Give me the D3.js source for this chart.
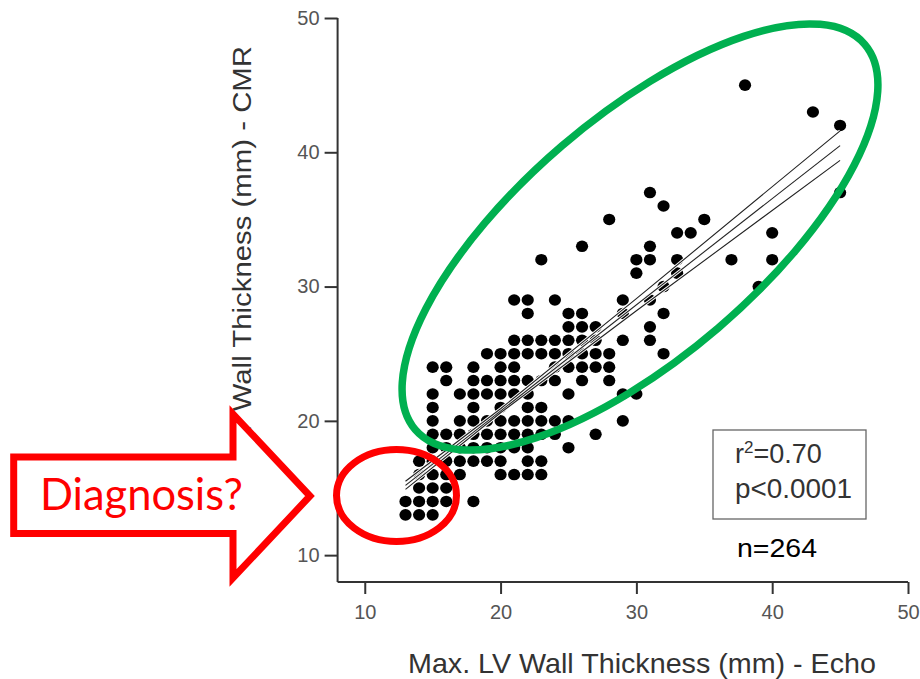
<!DOCTYPE html>
<html>
<head>
<meta charset="utf-8">
<script src="https://cdn.jsdelivr.net/npm/d3@7"></script>
<style>
  html, body { margin: 0; padding: 0; background: #fff; }
  svg { display: block; }
</style>
</head>
<body>
<svg id="chart" width="920" height="679"></svg>
<script>
// ---------------- DATA ----------------
// CMR wall thickness levels (mm) and the Echo values (mm) plotted at each level
const cmrLevels = [45, 43, 42, 37, 36, 35, 34, 33, 32, 31, 30, 29, 28, 27, 26, 25, 24, 23, 22, 21, 20, 19, 18, 17, 16, 15, 14, 13];
const echoAtLevel = [
  [38],
  [43],
  [45],
  [31, 45],
  [32],
  [28, 35],
  [33, 34, 40],
  [26, 31],
  [23, 30, 31, 33, 37, 40],
  [30, 33],
  [32, 39],
  [21, 22, 24, 29, 31],
  [22, 25, 26, 29, 32],
  [25, 26, 27, 31],
  [21, 22, 23, 24, 25, 26, 27, 29, 31],
  [19, 20, 21, 22, 23, 24, 25, 26, 27, 28, 32],
  [15, 16, 18, 20, 21, 24, 25, 26, 27, 28],
  [16, 18, 19, 20, 21, 22, 23, 24, 26, 28],
  [15, 17, 18, 19, 20, 21, 22, 25, 29, 30],
  [15, 18, 20, 22, 23],
  [15, 17, 18, 19, 20, 21, 22, 23, 24, 25, 29],
  [15, 16, 17, 18, 19, 20, 21, 22, 23, 24, 27],
  [15, 16, 17, 18, 19, 20, 21, 22, 25],
  [14, 15, 16, 17, 18, 19, 20, 22, 23],
  [14, 15, 16, 17, 20, 21, 22, 23],
  [14, 15, 16],
  [13, 14, 15, 16, 18],
  [13, 14, 15]
];
// regression line and confidence limits
const fitEcho = [13, 45];
const fitCMR = [15.2, 40.5];
const ciEcho = [13, 20, 30, 45];
const ciUpperCMR = [15.5, 20.9, 29.1, 41.6];
const ciLowerCMR = [14.9, 20.6, 28.2, 39.4];
// axes
const xTicks = [10, 20, 30, 40, 50];
const yTicks = [10, 20, 30, 40, 50];
const xTitle = "Max. LV Wall Thickness (mm) - Echo";
const yTitle = "Max. LV Wall Thickness (mm) - CMR";
// annotations
const r2Text = "0.70";
const pText = "p<0.0001";
const nText = "n=264";
const calloutText = "Diagnosis?";

// ---------------- DRAW ----------------
const svg = d3.select("#chart");
const x = d3.scaleLinear().domain([8, 50]).range([337.6, 908]);
const y = d3.scaleLinear().domain([8, 50]).range([582, 18]);

const points = [];
cmrLevels.forEach((c, i) => echoAtLevel[i].forEach(e => points.push({ e, c })));

// dots
svg.append("g").selectAll("ellipse").data(points).join("ellipse")
  .attr("cx", d => x(d.e)).attr("cy", d => y(d.c))
  .attr("rx", 6.1).attr("ry", 5.8)
  .attr("fill", "#000");

// regression lines (white halo + dark line)
const line = d3.line().x(d => x(d[0])).y(d => y(d[1]));
const lines = [
  d3.zip(fitEcho, fitCMR),
  d3.zip(ciEcho, ciUpperCMR),
  d3.zip(ciEcho, ciLowerCMR)
];
const lg = svg.append("g").attr("fill", "none");
lg.selectAll("path.halo").data(lines).join("path").attr("class", "halo")
  .attr("d", line).attr("stroke", "#fff").attr("stroke-width", 3);
lg.selectAll("path.ln").data(lines).join("path").attr("class", "ln")
  .attr("d", line).attr("stroke", "#222").attr("stroke-width", 1.1);

// axes
const xAxis = svg.append("g").attr("transform", `translate(0,${y(8)})`)
  .call(d3.axisBottom(x).tickValues(xTicks).tickSize(12).tickPadding(11));
const yAxis = svg.append("g").attr("transform", `translate(${x(8)},0)`)
  .call(d3.axisLeft(y).tickValues(yTicks).tickSize(13).tickPadding(5));
[xAxis, yAxis].forEach(a => {
  a.selectAll(".tick line").attr("stroke", "#333").attr("stroke-width", 2);
  a.selectAll(".tick text").attr("fill", "#555")
    .style("font-family", "'Liberation Sans', Arial, sans-serif").style("font-size", "20px");
});
xAxis.select(".domain").attr("stroke", "#333").attr("stroke-width", 2)
  .attr("d", `M${x(8)},0H${x(50)}`);
yAxis.select(".domain").attr("stroke", "#333").attr("stroke-width", 2)
  .attr("d", `M0,${y(8)}V${y(50)}`);

// axis titles
svg.append("text")
  .attr("x", 642).attr("y", 673)
  .attr("text-anchor", "middle")
  .attr("textLength", 468).attr("lengthAdjust", "spacingAndGlyphs")
  .style("font-family", "'Liberation Sans', Arial, sans-serif").style("font-size", "28px")
  .attr("fill", "#333").text(xTitle);
svg.append("text")
  .attr("transform", "translate(251,525) rotate(-90)")
  .attr("text-anchor", "start")
  .attr("textLength", 479).attr("lengthAdjust", "spacingAndGlyphs")
  .style("font-family", "'Liberation Sans', Arial, sans-serif").style("font-size", "25px")
  .attr("fill", "#333").text(yTitle);

// statistics box
svg.append("rect").attr("x", 713).attr("y", 430).attr("width", 153).attr("height", 89)
  .attr("fill", "#fff").attr("stroke", "#666").attr("stroke-width", 1.3);
const st = svg.append("g").style("font-family", "'Liberation Sans', Arial, sans-serif")
  .style("font-size", "27px").attr("fill", "#333");
const r2 = st.append("text").attr("x", 735).attr("y", 463);
r2.append("tspan").text("r");
r2.append("tspan").attr("dy", -10).style("font-size", "17px").text("2");
r2.append("tspan").attr("dy", 10).text("=" + r2Text);
st.append("text").attr("x", 735).attr("y", 498)
  .attr("textLength", 117).attr("lengthAdjust", "spacingAndGlyphs").text(pText);

svg.append("text").attr("x", 737).attr("y", 557)
  .attr("textLength", 80).attr("lengthAdjust", "spacingAndGlyphs")
  .style("font-family", "'Liberation Sans', Arial, sans-serif").style("font-size", "26px")
  .attr("fill", "#000").text(nText);

// green ellipse
svg.append("ellipse")
  .attr("transform", "translate(640,237) rotate(-40.6)")
  .attr("rx", 296).attr("ry", 120)
  .attr("fill", "none").attr("stroke", "#00b050").attr("stroke-width", 7.5);

// red ellipse
svg.append("ellipse")
  .attr("cx", 396.5).attr("cy", 495.5).attr("rx", 60).attr("ry", 46)
  .attr("fill", "none").attr("stroke", "#ff0000").attr("stroke-width", 7);

// red arrow with label
svg.append("path")
  .attr("d", "M13.7,457 L233,457 L233,414 L310,496 L233,578 L233,533.5 L13.7,533.5 Z")
  .attr("fill", "#fff").attr("stroke", "#ff0000").attr("stroke-width", 7)
  .attr("stroke-linejoin", "miter").attr("stroke-miterlimit", 10);
svg.append("text").attr("x", 40).attr("y", 510)
  .attr("textLength", 203).attr("lengthAdjust", "spacingAndGlyphs")
  .style("font-family", "Lato, 'Open Sans', sans-serif").style("font-size", "44px")
  .attr("fill", "#ff0000").text(calloutText);
</script>
</body>
</html>
